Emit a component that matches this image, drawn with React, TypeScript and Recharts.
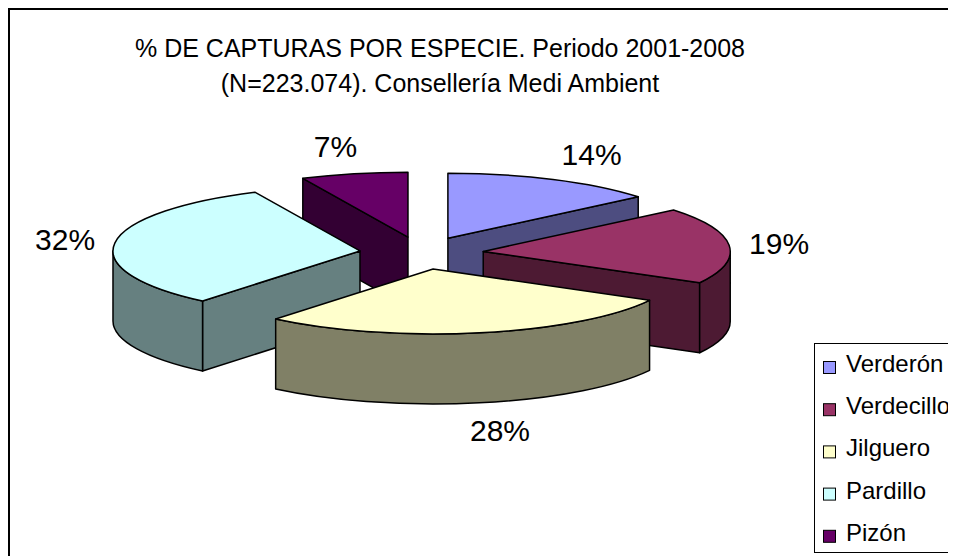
import React from "react";
import { PieChart, Pie } from "recharts";

// data
const species = ["Verderón", "Verdecillo", "Jilguero", "Pardillo", "Pizón"];
const shares = [14, 19, 28, 32, 7];
const topColors = ["#9999FF", "#993366", "#FFFFCC", "#CCFFFF", "#660066"];
const sideColors = ["#4D4D80", "#4D1A33", "#808066", "#668080", "#330033"];
const titleLines = [
  "% DE CAPTURAS POR ESPECIE. Periodo 2001-2008",
  "(N=223.074). Consellería Medi Ambient",
];

const data = species.map((name, i) => ({ name, value: shares[i] }));

const FONT = '"Liberation Sans", Arial, sans-serif';
const W = 990;
const H = 560;
const CX = 411.5;
const CY = 243;
const R = 247;
const TILT = 0.263; // vertical squash of the 3d pie
const EXPLODE = 0.251; // slice offset, fraction of radius
const DEPTH = 70; // height of the pie walls
const RAD = Math.PI / 180;

// paint slices from back to front
const total = shares.reduce((a, b) => a + b, 0);
let acc = 0;
const backness = shares.map((v) => {
  const m = ((acc + v / 2) / total) * 2 * Math.PI;
  acc += v;
  return Math.cos(m);
});
const drawOrder = shares.map((_, i) => i).sort((a, b) => backness[b] - backness[a]);

const makeSlice = (only: number) => (props: any) => {
  const { cx, cy, outerRadius, startAngle, endAngle, midAngle, index, percent } = props;
  if (index !== only) return <g />;
  const rx = outerRadius;
  const ry = outerRadius * TILT;
  const s = Math.max(startAngle, endAngle);
  const e = Math.min(startAngle, endAngle);
  const m = midAngle * RAD;
  const ax = cx + rx * EXPLODE * Math.cos(m);
  const ay = cy - ry * EXPLODE * Math.sin(m);
  const pt = (a: number, dz = 0) => `${ax + rx * Math.cos(a * RAD)},${ay - ry * Math.sin(a * RAD) + dz}`;
  const large = s - e > 180 ? 1 : 0;

  const top = `M${ax},${ay} L${pt(s)} A${rx},${ry} 0 ${large} 1 ${pt(e)} Z`;

  const faces: string[] = [];
  // radial walls facing the viewer
  if (Math.cos(s * RAD) < 0)
    faces.push(`M${ax},${ay} L${pt(s)} L${pt(s, DEPTH)} L${ax},${ay + DEPTH} Z`);
  if (Math.cos(e * RAD) > 0)
    faces.push(`M${ax},${ay} L${pt(e)} L${pt(e, DEPTH)} L${ax},${ay + DEPTH} Z`);
  // outer wall on the front half
  const hi = Math.min(s, 0);
  const lo = Math.max(e, -180);
  if (hi > lo)
    faces.push(
      `M${pt(hi)} A${rx},${ry} 0 0 1 ${pt(lo)} L${pt(lo, DEPTH)} A${rx},${ry} 0 0 0 ${pt(hi, DEPTH)} Z`
    );

  // percentage label
  const txt = `${Math.round(percent * 100)}%`;
  const fs = 30;
  const hw = ((txt.length - 1) * 0.556 + 0.889) * fs * 0.5;
  const c = Math.cos(m);
  const sn = Math.sin(m);
  const lx = ax + (rx + 20) * c + hw * Math.sign(c) * Math.min(1, 3 * Math.abs(c));
  const ly = ay - (ry + 28) * sn + (sn < 0 ? DEPTH : 0);

  return (
    <g>
      {faces.map((d, k) => (
        <path key={k} d={d} fill={sideColors[index]} stroke="#000" strokeWidth={1.5} strokeLinejoin="round" />
      ))}
      <path d={top} fill={topColors[index]} stroke="#000" strokeWidth={1.5} strokeLinejoin="round" />
      <text x={lx} y={ly + fs * 0.36} textAnchor="middle" fontFamily={FONT} fontSize={fs} fill="#000">
        {txt}
      </text>
    </g>
  );
};

export default function App() {
  return (
    <div
      style={{
        position: "relative",
        width: W + 2,
        height: H + 2,
        boxSizing: "border-box",
        borderLeft: "2px solid #000",
        borderTop: "2px solid #000",
        background: "#fff",
        overflow: "hidden",
      }}
    >
      <style>{"html, body { overflow: hidden; }"}</style>
      <PieChart width={W} height={H} margin={{ top: 0, right: 0, bottom: 0, left: 0 }}>
        {drawOrder.map((i) => {
          const shape = makeSlice(i);
          return (
            <Pie
              key={i}
              data={data}
              dataKey="value"
              nameKey="name"
              cx={CX}
              cy={CY}
              outerRadius={R}
              startAngle={90}
              endAngle={-270}
              stroke="none"
              shape={shape}
              activeShape={shape}
              inactiveShape={shape}
              isAnimationActive={false}
            />
          );
        })}
      </PieChart>
      <svg width={W} height={H} style={{ position: "absolute", left: 0, top: 0, pointerEvents: "none" }}>
        {titleLines.map((t, i) => (
          <text key={t} x={430} y={47 + i * 35} textAnchor="middle" fontFamily={FONT} fontSize={25} fill="#000">
            {t}
          </text>
        ))}
        <rect x={804.5} y={333.5} width={200} height={209} fill="#fff" stroke="#000" strokeWidth={1} />
        {species.map((name, i) => {
          const base = 362 + i * 42.2;
          return (
            <g key={name}>
              <rect x={813.5} y={base - 10.5} width={12} height={12} fill={topColors[i]} stroke="#000" strokeWidth={1} />
              <text x={836} y={base} fontFamily={FONT} fontSize={24} fill="#000">
                {name}
              </text>
            </g>
          );
        })}
      </svg>
    </div>
  );
}
